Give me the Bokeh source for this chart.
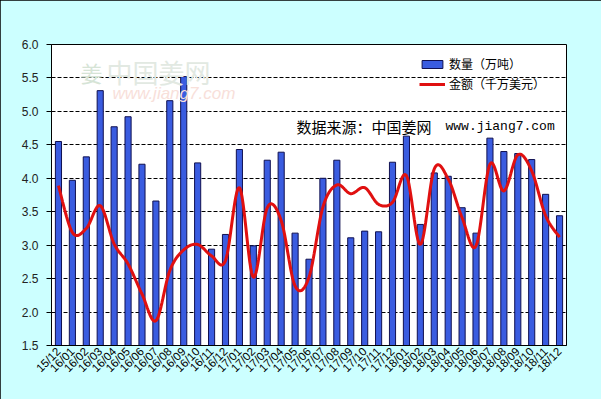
from bokeh.plotting import figure
from bokeh.models import (Range1d, FixedTicker, NumeralTickFormatter, Legend, LegendItem,
                          Label, ColumnDataSource)
from bokeh.embed import file_html
from bokeh.resources import INLINE
import math

months = ["15/12",
          "16/01", "16/02", "16/03", "16/04", "16/05", "16/06", "16/07", "16/08", "16/09", "16/10", "16/11", "16/12",
          "17/01", "17/02", "17/03", "17/04", "17/05", "17/06", "17/07", "17/08", "17/09", "17/10", "17/11", "17/12",
          "18/01", "18/02", "18/03", "18/04", "18/05", "18/06", "18/07", "18/08", "18/09", "18/10", "18/11", "18/12"]
quantity = [4.55,
            3.97, 4.32, 5.31, 4.77, 4.92, 4.21, 3.66, 5.16, 5.52, 4.23, 2.94, 3.16,
            4.43, 2.99, 4.27, 4.39, 3.18, 2.79, 4.00, 4.27, 3.11, 3.21, 3.20, 4.24,
            4.63, 3.31, 4.08, 4.03, 3.56, 3.18, 4.60, 4.40, 4.37, 4.28, 3.76, 3.44]
amount = [3.89,
          3.19, 3.25, 3.59, 3.02, 2.72, 2.27, 1.87, 2.62, 2.93, 3.01, 2.84, 2.77,
          3.86, 2.52, 3.56, 3.37, 2.39, 2.52, 3.57, 3.90, 3.77, 3.86, 3.61, 3.64,
          4.04, 3.01, 4.14, 3.99, 3.41, 2.99, 4.21, 3.81, 4.35, 4.11, 3.44, 3.12]
y_ticks = [1.5, 2.0, 2.5, 3.0, 3.5, 4.0, 4.5, 5.0, 5.5, 6.0]
title_text = "2015年12月-2018年12月各月生姜出口数量及金额"
legend_labels = ["数量（万吨）", "金额（千万美元）"]
source_text = "数据来源：中国姜网"
source_url = "www.jiang7.com"

xs = list(range(len(months)))

# smooth curve (Catmull-Rom style Bezier, like a spreadsheet "smoothed line")
def smooth(xv, yv, n=16):
    px, py = [], []
    m = len(xv)
    for i in range(m - 1):
        x0, y0 = (xv[i - 1], yv[i - 1]) if i > 0 else (xv[i], yv[i])
        x1, y1 = xv[i], yv[i]
        x2, y2 = xv[i + 1], yv[i + 1]
        x3, y3 = (xv[i + 2], yv[i + 2]) if i + 2 < m else (x2, y2)
        c1x, c1y = x1 + (x2 - x0) / 6, y1 + (y2 - y0) / 6
        c2x, c2y = x2 - (x3 - x1) / 6, y2 - (y3 - y1) / 6
        for k in range(n):
            t = k / n
            a = (1 - t) ** 3; b = 3 * (1 - t) ** 2 * t; c = 3 * (1 - t) * t ** 2; d = t ** 3
            px.append(a * x1 + b * c1x + c * c2x + d * x2)
            py.append(a * y1 + b * c1y + c * c2y + d * y2)
    px.append(xv[-1]); py.append(yv[-1])
    return px, py

cx, cy = smooth(xs, amount)

W, H = 601, 399
FL, FR, FT, FB = 51, 566, 44, 345

BG = "#CCFFFF"
p = figure(width=W, height=H, output_backend="svg", toolbar_location=None,
           x_range=Range1d(-0.5, len(months) - 0.5), y_range=Range1d(y_ticks[0], y_ticks[-1]),
           min_border_left=FL, min_border_right=W - FR, min_border_top=FT, min_border_bottom=H - FB,
           background_fill_color="white", border_fill_color=BG, outline_line_color="black",
           outline_line_width=1)
p.styles = {"outline": "2px solid black", "outline-offset": "-2px"}

bar_src = ColumnDataSource(dict(x=xs, top=quantity))
r_bar = p.vbar(x="x", top="top", bottom=0, width=0.44, source=bar_src,
               fill_color="#3A5CE0", line_color="#101050", line_width=1)
r_line = p.line(cx, cy, line_color="#E01010", line_width=3)

p.xaxis.ticker = FixedTicker(ticks=xs)
p.xaxis.major_label_overrides = {i: m for i, m in enumerate(months)}
p.xaxis.major_label_orientation = math.pi / 4
p.xaxis.major_label_text_font = "Liberation Sans"
p.xaxis.major_label_text_font_size = "11.5px"
p.xaxis.major_label_text_color = "black"
p.xaxis.major_tick_out = 0
p.xaxis.major_tick_in = 0
p.xaxis.minor_tick_out = 0
p.xaxis.major_label_standoff = 4
p.xaxis.axis_line_color = "black"

p.yaxis.ticker = FixedTicker(ticks=y_ticks)
p.yaxis.formatter = NumeralTickFormatter(format="0.0")
p.yaxis.major_label_text_font = "Liberation Sans"
p.yaxis.major_label_text_font_size = "12px"
p.yaxis.major_label_text_color = "#222222"
p.yaxis.major_tick_out = 5
p.yaxis.major_tick_in = 0
p.yaxis.minor_tick_out = 0
p.yaxis.minor_tick_in = 0
p.yaxis.major_label_standoff = 8
p.yaxis.axis_line_color = "black"

p.xgrid.visible = False
p.ygrid.grid_line_color = "black"
p.ygrid.grid_line_dash = "4 2"
p.ygrid.grid_line_width = 1

# frame-relative screen helpers (reference pixel coords -> frame screen coords)
def sx(x): return x - FL
def sy(y): return FB - y

# watermark
p.add_layout(Label(x=sx(80), y=sy(71), x_units="screen", y_units="screen", text="姜",
                   text_font="Noto Sans CJK SC", text_font_size="22px", text_color="#d6e4d6",
                   text_baseline="middle", text_align="left"))
p.add_layout(Label(x=sx(106), y=sy(71), x_units="screen", y_units="screen", text="中国姜网",
                   text_font="Noto Sans CJK SC", text_font_size="26px", text_color="#e2e9e2",
                   text_baseline="middle", text_align="left"))
p.add_layout(Label(x=sx(112), y=sy(93), x_units="screen", y_units="screen", text=source_url,
                   text_font="Liberation Sans", text_font_style="italic", text_font_size="17px",
                   text_color="#f8e0da", text_baseline="middle", text_align="left"))

# source note
p.add_layout(Label(x=sx(296), y=sy(126), x_units="screen", y_units="screen", text=source_text,
                   text_font="Noto Sans CJK SC", text_font_size="15px", text_color="black",
                   text_baseline="middle", text_align="left"))
p.add_layout(Label(x=sx(445), y=sy(126), x_units="screen", y_units="screen", text=source_url,
                   text_font="Liberation Mono", text_font_size="13px", text_color="black",
                   text_baseline="middle", text_align="left"))

# title
p.add_layout(Label(x=sx(304), y=sy(23), x_units="screen", y_units="screen", text=title_text,
                   text_font="Liberation Serif, Noto Sans CJK SC", text_font_style="bold",
                   text_font_size="20px", text_color="black",
                   text_baseline="middle", text_align="center"))

legend = Legend(items=[LegendItem(label=legend_labels[0], renderers=[r_bar]),
                       LegendItem(label=legend_labels[1], renderers=[r_line])],
                location=(sx(419), sy(92)), border_line_color=None, background_fill_alpha=0,
                padding=0, margin=0, spacing=3, glyph_width=26, glyph_height=10, label_height=14,
                label_standoff=4, label_text_font="Noto Sans CJK SC", label_text_font_size="12px",
                label_text_color="black")
p.add_layout(legend)

open("out.html", "w").write(file_html(p, INLINE))
